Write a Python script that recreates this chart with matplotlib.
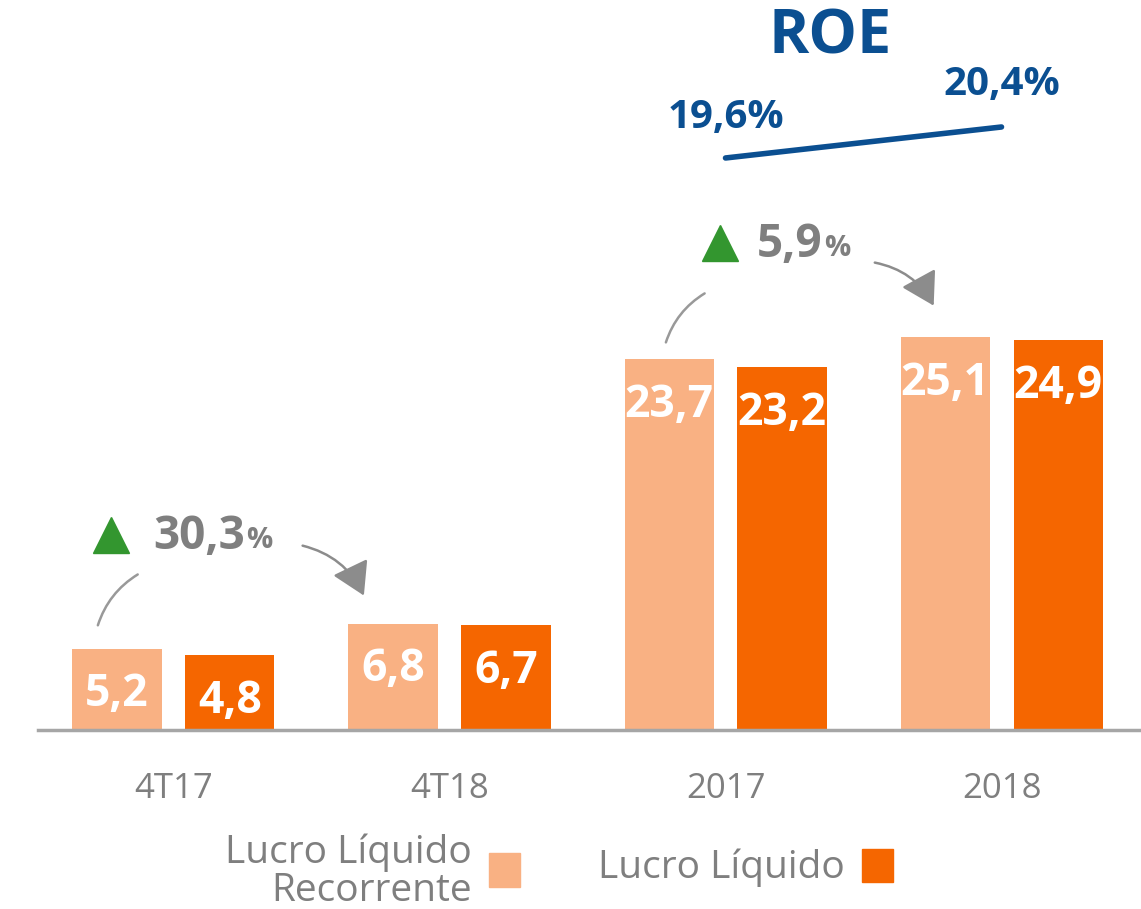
import numpy as np
import matplotlib
matplotlib.use("Agg")
import matplotlib.pyplot as plt
from matplotlib.patches import FancyArrowPatch

plt.rcParams["font.family"] = ["Open Sans", "DejaVu Sans"]

# data
categories = ["4T17", "4T18", "2017", "2018"]
lucro_recorrente = [5.2, 6.8, 23.7, 25.1]
lucro_liquido = [4.8, 6.7, 23.2, 24.9]
roe_years = ["2017", "2018"]
roe_values = [19.6, 20.4]
growth_labels = ["30,3", "5,9"]

# annotation layout (data coords): triangle x, text x, text y, arc, arrow
growth_tri_x = [-0.226, 1.98]
growth_txt_x = [-0.074, 2.114]
growth_txt_y = [12.35, 31.0]
arc_segments = [((-0.277, 6.52), (-0.121, 10.03)), ((1.781, 24.6), (1.933, 27.99))]
arrow_segments = [((0.458, 11.82), (0.694, 8.43)), ((2.531, 29.9), (2.759, 26.96))]

LIGHT = "#F9B183"
DARK = "#F56600"
BLUE = "#0B4F91"
GREY_TXT = "#7F7F7F"
GREEN = "#33962F"


def fmt(v):
    return f"{v:.1f}".replace(".", ",")


fig = plt.figure(figsize=(11.41, 9.09), dpi=100)
ax = fig.add_axes([0, 0, 1, 1])
ax.set_xlim(-0.6286, 3.5054)
ax.set_ylim(-11.44, 46.65)
ax.axis("off")

x = np.arange(len(categories))
w = 0.3225
off = 0.2047
ax.bar(x - off, lucro_recorrente, w, color=LIGHT, zorder=2)
ax.bar(x + off, lucro_liquido, w, color=DARK, zorder=2)

for xi, v in zip(x - off, lucro_recorrente):
    ax.text(xi, v - 2.95, fmt(v), ha="center", va="center", color="white",
            fontsize=32, fontweight="bold", zorder=3)
for xi, v in zip(x + off, lucro_liquido):
    ax.text(xi, v - 2.95, fmt(v), ha="center", va="center", color="white",
            fontsize=32, fontweight="bold", zorder=3)

# baseline
ax.axhline(0, xmin=38 / 1141, xmax=1, color="#A6A6A6", lw=2.5, zorder=3)

# category labels
for xi, c in zip(x, categories):
    ax.text(xi, -3.8, c, ha="center", va="center", color=GREY_TXT, fontsize=25)

# growth annotations
for i, lab in enumerate(growth_labels):
    ax.plot([growth_tri_x[i]], [growth_txt_y[i] + 0.1], marker="^", ms=26,
            color=GREEN, mec=GREEN, zorder=4)
    t = ax.text(growth_txt_x[i], growth_txt_y[i], lab, ha="left", va="center",
                color=GREY_TXT, fontsize=33, fontweight="bold")
    ax.annotate("%", xy=(1, 0), xycoords=t, xytext=(1, 4),
                textcoords="offset points", ha="left", va="bottom",
                color=GREY_TXT, fontsize=21, fontweight="bold")
    p1 = FancyArrowPatch(*arc_segments[i], connectionstyle="arc3,rad=-0.2",
                         arrowstyle="-", color="#999999", lw=1.8)
    ax.add_patch(p1)
    p2 = FancyArrowPatch(*arrow_segments[i], connectionstyle="arc3,rad=-0.25",
                         arrowstyle="-|>,head_length=1.0,head_width=0.6",
                         mutation_scale=20, color="#8C8C8C", lw=1.8)
    ax.add_patch(p2)

# ROE line
ax2 = ax.twinx()
ax2.set_ylim(0.219, 23.677)
ax2.axis("off")
roe_x = [categories.index(y) for y in roe_years]
ax2.plot(roe_x, roe_values, color=BLUE, lw=4, solid_capstyle="round")
ax2.text(roe_x[0], roe_values[0] + 1.05, fmt(roe_values[0]) + "%", ha="center",
         va="center", color=BLUE, fontsize=29, fontweight="bold")
ax2.text(roe_x[1], roe_values[1] + 1.1, fmt(roe_values[1]) + "%", ha="center",
         va="center", color=BLUE, fontsize=29, fontweight="bold")
fig.text(830 / 1141, 1 - 38 / 909, "ROE", ha="center", va="center", color=BLUE,
         fontsize=44, fontweight="bold")

# legend
fig.text(472 / 1141, 1 - 872 / 909, "Lucro Líquido\nRecorrente", ha="right",
         va="center", color=GREY_TXT, fontsize=28, linespacing=1.0)
fig.patches.append(plt.Rectangle((489 / 1141, 1 - 887 / 909), 31 / 1141, 34 / 909,
                                 transform=fig.transFigure, color=LIGHT))
fig.text(845 / 1141, 1 - 868 / 909, "Lucro Líquido", ha="right", va="center",
         color=GREY_TXT, fontsize=28)
fig.patches.append(plt.Rectangle((862 / 1141, 1 - 882 / 909), 31 / 1141, 33 / 909,
                                 transform=fig.transFigure, color=DARK))

fig.savefig("out.png", dpi=100)
